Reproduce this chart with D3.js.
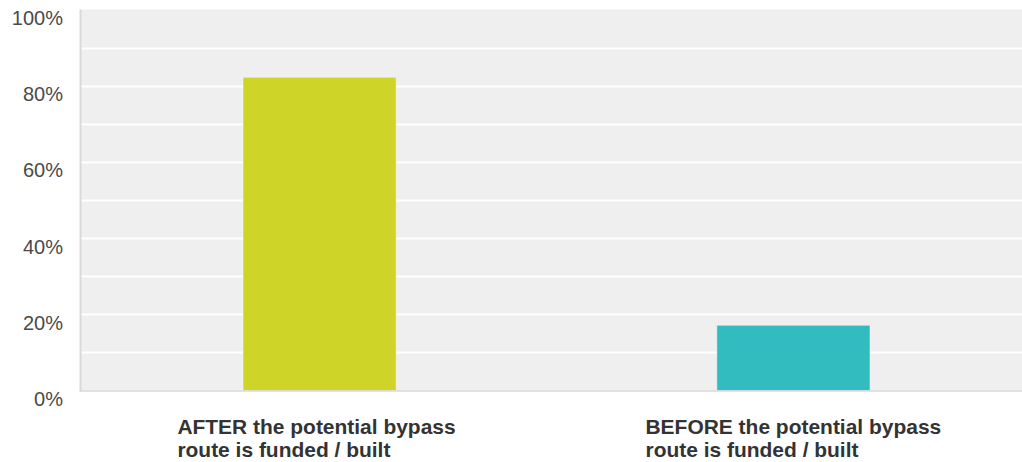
<!DOCTYPE html>
<html>
<head>
<meta charset="utf-8">
<script src="https://cdn.jsdelivr.net/npm/d3@7"></script>
<style>
  html, body { margin: 0; padding: 0; background: #ffffff; }
  svg { display: block; }
</style>
</head>
<body>
<svg id="chart" width="1022" height="462"></svg>
<script>
const categories = [
  ["AFTER the potential bypass", "route is funded / built"],
  ["BEFORE the potential bypass", "route is funded / built"]
];
const values = [82.2, 17.1];
const barColors = ["#cfd428", "#33bcbf"];
const yTicks = [0, 20, 40, 60, 80, 100];
const gridTicks = [0, 10, 20, 30, 40, 50, 60, 70, 80, 90, 100];

(function () {
const svg = d3.select("#chart");
const W = 1022, H = 462;
const mLeft = 81, mTop = 9.5, mBottom = 390.5, mRight = 1032;

const x = d3.scaleBand()
  .domain(d3.range(categories.length))
  .range([mLeft, mRight])
  .paddingInner(0.677)
  .paddingOuter(0.342);
const y = d3.scaleLinear().domain([0, 100]).range([mBottom, mTop]);

// plot background
svg.append("rect")
  .attr("x", mLeft).attr("y", mTop)
  .attr("width", W - mLeft).attr("height", mBottom - mTop)
  .attr("fill", "#efefef");

// gridlines
svg.append("g").selectAll("line")
  .data(gridTicks.filter(d => d > 0 && d < 100))
  .join("line")
  .attr("x1", mLeft).attr("x2", W)
  .attr("y1", d => Math.round(y(d)) + 0.5).attr("y2", d => Math.round(y(d)) + 0.5)
  .attr("stroke", "#ffffff").attr("stroke-width", 2);

// bars
svg.append("g").selectAll("rect")
  .data(values)
  .join("rect")
  .attr("x", (d, i) => x(i))
  .attr("y", d => y(d))
  .attr("width", x.bandwidth())
  .attr("height", d => y(0) - y(d))
  .attr("fill", (d, i) => barColors[i])
  .attr("stroke", "rgba(255,255,255,0.35)")
  .attr("stroke-width", 1);

// axis lines
svg.append("line")
  .attr("x1", mLeft - 0.5).attr("x2", mLeft - 0.5)
  .attr("y1", mTop).attr("y2", mBottom + 1)
  .attr("stroke", "#d9d9d9").attr("stroke-width", 2);
svg.append("line")
  .attr("x1", mLeft - 1.5).attr("x2", W)
  .attr("y1", mBottom + 0.5).attr("y2", mBottom + 0.5)
  .attr("stroke", "#d9d9d9").attr("stroke-width", 1.5);

// y tick labels
const yAxis = d3.axisLeft(y).tickValues(yTicks).tickFormat(d => d + "%").tickSize(0).tickPadding(0);
const ya = svg.append("g").attr("transform", "translate(63,0)").call(yAxis);
ya.select(".domain").remove();
ya.selectAll("text")
  .attr("dy", null)
  .attr("y", 15)
  .attr("font-family", "Liberation Sans, Arial, sans-serif")
  .attr("font-size", 20)
  .attr("fill", "#4a4a4a");

// category labels (block left-aligned, centered on band)
const sx = 1.075;
const shifts = [-3, 0];
categories.forEach((lines, i) => {
  const g = svg.append("g");
  const t = g.append("text")
    .attr("font-family", "Liberation Sans, Arial, sans-serif")
    .attr("font-size", 19.5)
    .attr("font-weight", "bold")
    .attr("fill", "#333333");
  lines.forEach((ln, j) => {
    t.append("tspan").attr("x", 0).attr("y", 434 + j * 22.7).text(ln);
  });
  const w = d3.max(t.selectAll("tspan").nodes(), n => n.getComputedTextLength()) * sx;
  const cx = x(i) + x.bandwidth() / 2;
  g.attr("transform", `translate(${cx - w / 2 + shifts[i]},0) scale(${sx},1)`);
});
})();
</script>
</body>
</html>
